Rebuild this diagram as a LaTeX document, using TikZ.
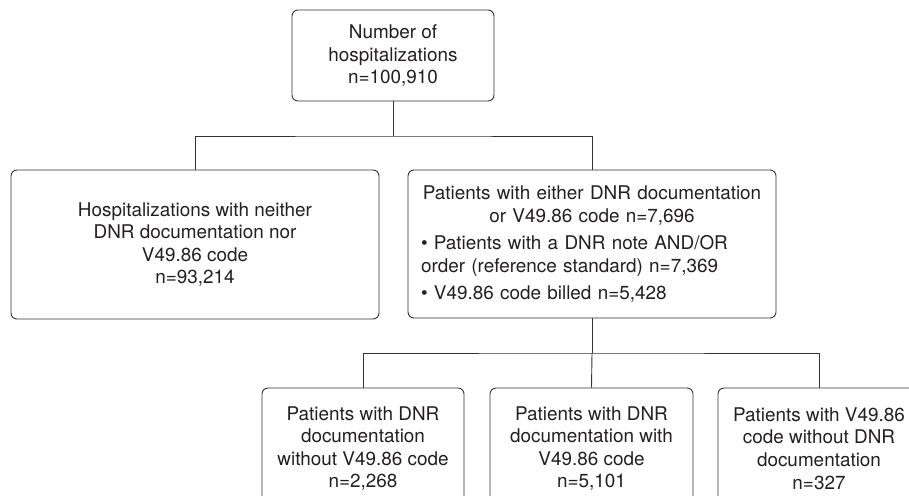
\documentclass[tikz,border=0pt]{standalone}
\usepackage{fontspec}
\setmainfont{TeX Gyre Heros}
\definecolor{ink}{HTML}{231F20}
\definecolor{rule}{HTML}{333333}
\begin{document}
\begin{tikzpicture}[x=1pt,y=-1pt,
  box/.style={draw=rule, line width=0.9pt, rounded corners=6pt, align=center,
    text=ink, inner sep=0pt, font=\fontsize{18.9}{22.6}\selectfont},
  link/.style={draw=rule, line width=0.9pt}]
\useasboundingbox (0,0) rectangle (909,495);
\clip (0,0) rectangle (909,495);

% first level
\node[box, minimum width=202pt, minimum height=91pt] (all) at (393,55.5)
  {Number of\\ hospitalizations\\ n=100,910};

% second level
\node[box, minimum width=368pt, minimum height=149pt] (none) at (195,244.5)
  {Hospitalizations with neither\\ DNR documentation nor\\ V49.86 code\\ n=93,214};
\node[box, minimum width=368pt, minimum height=148pt, text width=342pt, align=left] (either) at (592,244)
  {{\centering Patients with either DNR documentation\\ or V49.86 code n=7,696\par}\vspace{4.5pt}%
   \raggedright \textbullet\ Patients with a DNR note AND/OR\\ order (reference standard) n=7,369\par\vspace{4.5pt}%
   \textbullet\ V49.86 code billed n=5,428};

% third level
\node[box, minimum width=202pt, minimum height=121pt] (docnocode) at (363,448.5)
  {Patients with DNR\\ documentation\\ without V49.86 code\\ n=2,268};
\node[box, minimum width=203pt, minimum height=121pt] (doccode) at (591.5,448.5)
  {Patients with DNR\\ documentation with\\ V49.86 code\\ n=5,101};
\node[box, minimum width=202pt, minimum height=121pt] (codenodoc) at (819,448.5)
  {Patients with V49.86\\ code without DNR\\ documentation\\ n=327};

% connectors
\coordinate (split1) at (393,136);
\coordinate (split2) at (592,353);
\draw[link] (all.south) -- (split1);
\draw[link] (none.north) |- (split1) -| (either.north);
\draw[link] (either.south) -- (split2);
\draw[link] (docnocode.north) |- (split2) -| (codenodoc.north);
\draw[link] (split2) -- (doccode.north);
\end{tikzpicture}
\end{document}
